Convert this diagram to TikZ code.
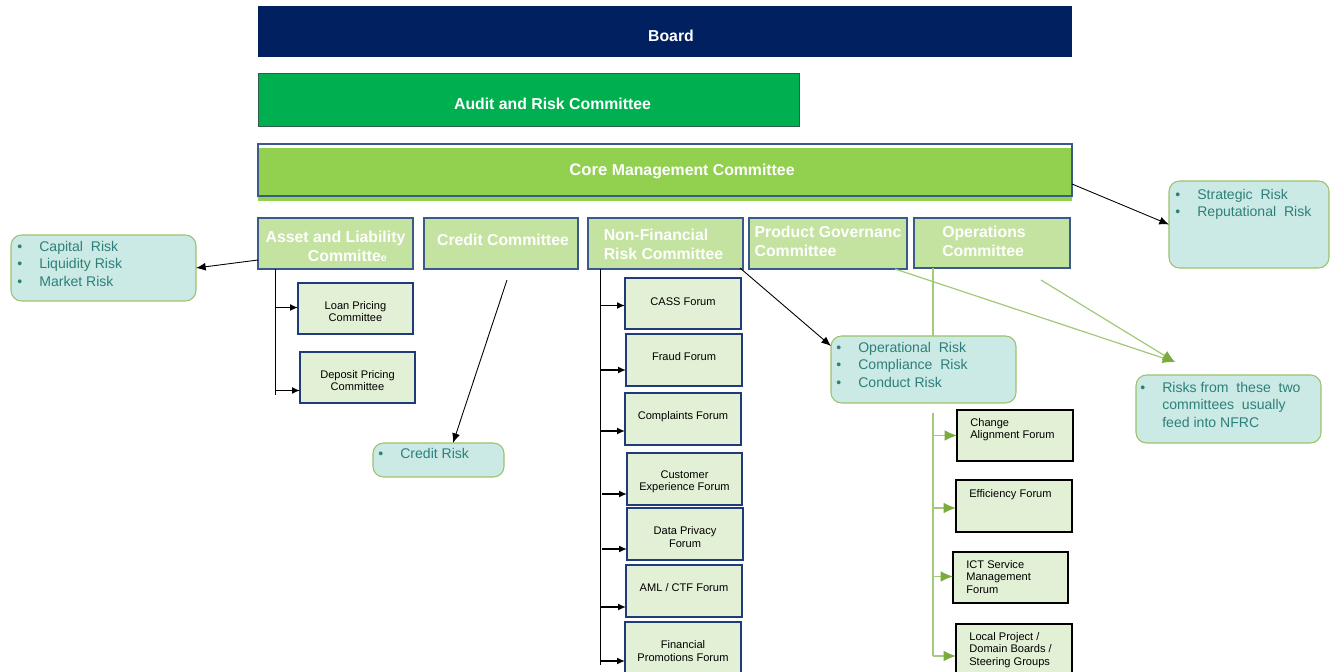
\documentclass[tikz,border=0pt]{standalone}
\usepackage{fontspec}
\setmainfont{Liberation Sans}
\usepackage{xcolor}
\usepackage{tikz}
\usetikzlibrary{fit,calc,arrows.meta}

\definecolor{boardnavy}{HTML}{002060}
\definecolor{auditgreen}{HTML}{00B050}
\definecolor{auditedge}{HTML}{2E5E4A}
\definecolor{coregreen}{HTML}{92D050}
\definecolor{commfill}{HTML}{C4E3A0}
\definecolor{commedge}{HTML}{3A5A8C}
\definecolor{forumfill}{HTML}{E2F0D5}
\definecolor{forumedge}{HTML}{1F3B7A}
\definecolor{riskfill}{HTML}{CCEAE5}
\definecolor{riskedge}{HTML}{9BC26A}
\definecolor{risktext}{HTML}{2E7F7A}
\definecolor{linegreen}{HTML}{A3C97A}
\definecolor{tipgreen}{HTML}{7BAA3F}

\newcommand{\rbul}{\makebox[12.5pt][l]{\textbullet}}

\tikzset{
	boxbase/.style={inner sep=0pt, outer sep=0pt},
	boardbox/.style={boxbase, fill=boardnavy},
	auditbox/.style={boxbase, fill=auditgreen, draw=auditedge, line width=0.5pt},
	corebox/.style={boxbase, fill=coregreen},
	coreframe/.style={boxbase, draw=commedge, line width=0.6pt},
	commbox/.style={boxbase, fill=commfill, draw=commedge, line width=0.7pt},
	forumbox/.style={boxbase, fill=forumfill, draw=forumedge, line width=0.6pt},
	opsbox/.style={boxbase, fill=forumfill, draw=black, line width=1.1pt},
	riskbox/.style={boxbase, fill=riskfill, draw=riskedge, line width=0.6pt, rounded corners=6pt},
	hdtxt/.style={inner sep=0pt, text=white, font=\fontsize{9}{10.8}\selectfont\bfseries},
	commtxt/.style={hdtxt, align=left},
	forumtxt/.style={inner sep=0pt, align=center, font=\fontsize{6.3}{7.1}\selectfont},
	risktxt/.style={inner sep=0pt, anchor=north west, align=left, text=risktext, font=\fontsize{8}{9.9}\selectfont},
	opstxt/.style={inner sep=0pt, anchor=north west, align=left, font=\fontsize{6.3}{7.1}\selectfont},
	arr/.style={-{Latex[length=5.5pt,width=4.5pt]}, line width=0.5pt},
	farr/.style={-{Latex[length=4.5pt,width=4pt]}, line width=0.9pt},
	trunk/.style={line width=0.5pt},
	gline/.style={draw=linegreen, line width=0.7pt},
	garr/.style={gline, -{Latex[length=7pt,width=6pt,color=tipgreen]}},
}

\begin{document}
\begin{tikzpicture}[x=0.02cm, y=-0.02cm]
	\useasboundingbox (0,0) rectangle (1330,672);
	\clip (0,0) rectangle (1330,672);

	\node[boardbox, fit={(258,6) (1072,57)}] (board) {};
	\node[hdtxt] (boardtxt) at ($(board.center)+(6,4)$) {Board};
	\node[auditbox, fit={(258,73) (799,126)}] (audit) {};
	\node[hdtxt] (audittxt) at ($(audit.center)+(24,4)$) {Audit and Risk Committee};
	\node[corebox, fit={(258,148) (1072,201)}] (core) {};
	\node[coreframe, fit={(258,144) (1072,196)}] (coreedge) {};
	\node[hdtxt] (coretxt) at ($(core.center)+(17,-3)$) {{\fontsize{9.5}{11}\selectfont Core} Management Committee};

	\node[commbox, fit={(258,218) (413,269)}] (alco) {};
	\node[hdtxt, align=center] (alcotxt) at ($(alco.center)+(0,3)$) {Asset and Liability\\\hspace*{1.5em}Committe{\fontsize{6}{6}\selectfont e}};
	\node[commbox, fit={(424,218) (578,269)}] (credit) {};
	\node[hdtxt] (credittxt) at ($(credit.center)+(2,-4)$) {Credit Committee};
	\node[commbox, fit={(588,218) (743,269)}] (nfrc) {};
	\node[commtxt] (nfrctxt) at ($(nfrc.center)+(-2,1)$) {Non-Financial\\Risk Committee};
	\node[commbox, fit={(749,218) (907,269)}] (prodgov) {};
	\node[commtxt] (prodgovtxt) at ($(prodgov.center)+(0,-2)$) {Product Governanc\\Committee};
	\node[commbox, fit={(914,218) (1070,268)}] (ops) {};
	\node[commtxt] (opstxt) at ($(ops.center)+(-8,-2)$) {Operations\\Committee};

	\node[forumbox, fit={(298,283) (413,334)}] (loanpc) {};
	\node[forumtxt] (loanpctxt) at ($(loanpc.center)+(0,3)$) {Loan Pricing\\Committee};
	\node[forumbox, fit={(300,352) (415,403)}] (deppc) {};
	\node[forumtxt] (deppctxt) at ($(deppc.center)+(0,3)$) {Deposit Pricing\\Committee};

	\node[forumbox, fit={(625,278) (741,329)}] (cass) {};
	\node[forumtxt] (casstxt) at ($(cass.center)+(0,-2)$) {CASS Forum};
	\node[forumbox, fit={(626,334) (742,386)}] (fraud) {};
	\node[forumtxt] (fraudtxt) at ($(fraud.center)+(0,-3)$) {Fraud Forum};
	\node[forumbox, fit={(625,393) (741,445)}] (complaints) {};
	\node[forumtxt] (complaintstxt) at ($(complaints.center)+(0,-2)$) {Complaints Forum};
	\node[forumbox, fit={(627,453) (742,505)}] (custexp) {};
	\node[forumtxt] (custexptxt) at ($(custexp.center)+(0,3)$) {Customer\\Experience Forum};
	\node[forumbox, fit={(627,508) (743,560)}] (privacy) {};
	\node[forumtxt] (privacytxt) at ($(privacy.center)+(0,3)$) {Data Privacy\\Forum};
	\node[forumbox, fit={(626,565) (742,617)}] (amlctf) {};
	\node[forumtxt] (amlctftxt) at ($(amlctf.center)+(0,-3)$) {AML / CTF Forum};
	\node[forumbox, fit={(625,622) (741,680)}] (finprom) {};
	\node[forumtxt] (finpromtxt) at ($(finprom.north)+(0,29)$) {Financial\\Promotions Forum};

	\node[opsbox, fit={(957,410) (1073,461)}] (change) {};
	\node[opstxt] (changetxt) at ($(change.north west)+(13,8)$) {Change\\Alignment Forum};
	\node[opsbox, fit={(956,480) (1072,532)}] (efficiency) {};
	\node[opstxt] (efficiencytxt) at ($(efficiency.north west)+(13,9)$) {Efficiency Forum};
	\node[opsbox, fit={(953,552) (1068,603)}] (ict) {};
	\node[opstxt] (icttxt) at ($(ict.north west)+(13,8)$) {ICT Service\\Management\\Forum};
	\node[opsbox, fit={(956,624) (1072,680)}] (localproj) {};
	\node[opstxt] (localprojtxt) at ($(localproj.north west)+(13,8)$) {Local Project /\\Domain Boards /\\Steering Groups};

	\node[riskbox, fit={(11,235) (196,301)}] (mktrisk) {};
	\node[risktxt] (mktrisktxt) at ($(mktrisk.north west)+(6,6)$) {\rbul Capital\ \ Risk\\\rbul Liquidity Risk\\\rbul Market Risk};
	\node[riskbox, fit={(373,443) (504,477)}] (credrisk) {};
	\node[risktxt] (credrisktxt) at ($(credrisk.north west)+(5,5)$) {\rbul Credit Risk};
	\node[riskbox, fit={(831,336) (1016,403)}] (oprisk) {};
	\node[risktxt] (oprisktxt) at ($(oprisk.north west)+(5,6)$) {\rbul Operational\ \ Risk\\\rbul Compliance\ \ Risk\\\rbul Conduct Risk};
	\node[riskbox, fit={(1169,181) (1329,268)}] (stratrisk) {};
	\node[risktxt] (stratrisktxt) at ($(stratrisk.north west)+(6,8)$) {\rbul Strategic\ \ Risk\\\rbul Reputational\ \ Risk};
	\node[riskbox, fit={(1136,375) (1321,443)}] (feedrisk) {};
	\node[risktxt] (feedrisktxt) at ($(feedrisk.north west)+(4,7)$) {\rbul Risks from\ \ these\ \ two\\\hspace*{12.5pt}committees\ \ usually\\\hspace*{12.5pt}feed into NFRC};

	\coordinate (alcotrunk) at ($(alco.south west)+(17,126)$);
	\draw[trunk] ($(alco.south west)+(17,0)$) -- (alcotrunk);
	\draw[farr] ($(loanpc.west)+(-23,-1)$) -- ($(loanpc.west)+(0,-1)$);
	\draw[farr] ($(deppc.west)+(-25,13)$) -- ($(deppc.west)+(0,13)$);

	\coordinate (nfrctrunk) at ($(nfrc.south west)+(12,396)$);
	\draw[trunk] ($(nfrc.south west)+(12,0)$) -- (nfrctrunk);
	\foreach \f/\dy in {cass/2,fraud/10,complaints/12,custexp/15,privacy/15,amlctf/16,finprom/10}
		\draw[farr] ($(\f.west)+(-25,\dy)$) -- ($(\f.west)+(0,\dy)$);

	\coordinate (opstrunk) at ($(localproj.west)+(-23,4)$);
	\draw[gline] ($(ops.south west)+(19,0)$) -- ($(oprisk.north west)+(102,0)$);
	\draw[gline] ($(oprisk.south west)+(102,10)$) -- (opstrunk);
	\draw[garr] ($(change.west)+(-24,0)$) -- (change.west);
	\draw[garr] ($(efficiency.west)+(-23,2)$) -- ($(efficiency.west)+(0,2)$);
	\draw[garr] ($(ict.west)+(-20,-1)$) -- ($(ict.west)+(0,-1)$);
	\draw[garr] (opstrunk) -- ($(localproj.west)+(0,4)$);

	\coordinate (feedtip) at ($(feedrisk.north west)+(39,-13)$);
	\draw[garr] ($(prodgov.south west)+(146,0)$) -- (feedtip);
	\draw[garr] ($(ops.south west)+(127,12)$) -- (feedtip);

	\draw[arr] ($(alco.south west)+(0,-9)$) -- (mktrisk.east);
	\draw[arr] ($(credit.south west)+(83,11)$) -- ($(credrisk.north west)+(80,0)$);
	\draw[arr] ($(core.north east)+(0,36)$) -- (stratrisk.west);
	\draw[arr] ($(nfrc.south east)+(-3,-1)$) -- ($(oprisk.north west)+(0,10)$);
\end{tikzpicture}
\end{document}
